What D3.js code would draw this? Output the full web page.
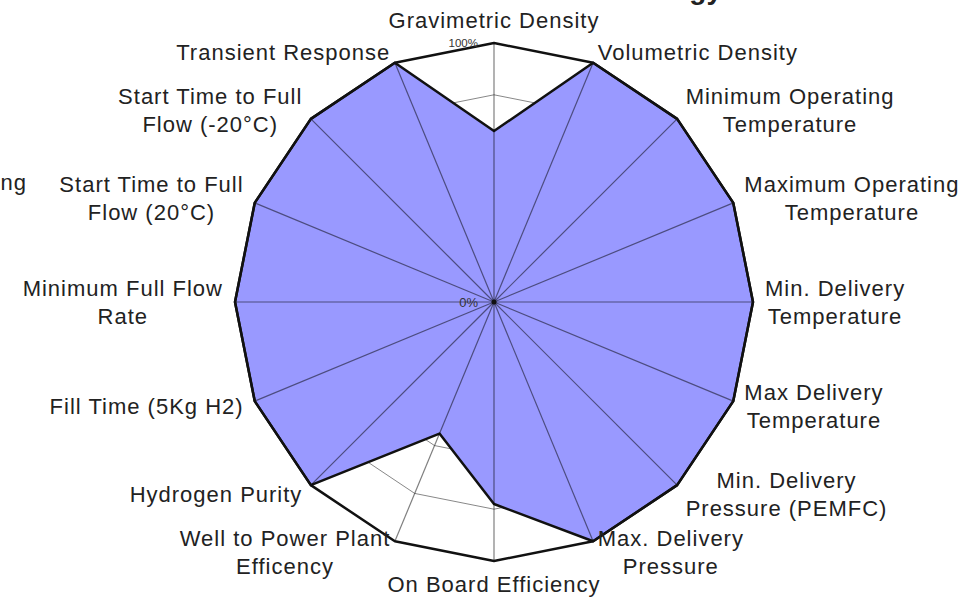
<!DOCTYPE html>
<html>
<head>
<meta charset="utf-8">
<script src="https://cdn.jsdelivr.net/npm/d3@7"></script>
<style>
  body { margin: 0; background: #fff; }
  text { font-family: "Liberation Sans", Arial, sans-serif; fill: #222; }
</style>
</head>
<body>
<svg></svg>
<script>
// set the dimensions of the graph
const width = 971,
  height = 601,
  cx = 494,
  cy = 302,
  radius = 259;

// axis names, top one first, going clockwise ("\n" = line break)
const categories = [
  "Gravimetric Density",
  "Volumetric Density",
  "Minimum Operating\nTemperature",
  "Maximum Operating\nTemperature",
  "Min. Delivery\nTemperature",
  "Max Delivery\nTemperature",
  "Min. Delivery\nPressure (PEMFC)",
  "Max. Delivery\nPressure",
  "On Board Efficiency",
  "Well to Power Plant\nEfficency",
  "Hydrogen Purity",
  "Fill Time (5Kg H2)",
  "Minimum Full Flow\nRate",
  "Start Time to Full\nFlow (20°C)",
  "Start Time to Full\nFlow (-20°C)",
  "Transient Response"
];

// share of target reached on each axis
const values = [0.66, 1, 1, 1, 1, 1, 1, 1, 0.78, 0.55, 1, 1, 1, 1, 1, 1];

const gridLevels = [0.2, 0.4, 0.6, 0.8];
const tickLabels = [{ v: 0, text: "0%" }, { v: 1, text: "100%" }];

const svg = d3.select("svg")
  .attr("width", width)
  .attr("height", height);

const g = svg.append("g")
  .attr("transform", `translate(${cx},${cy})`);

const n = categories.length;
const angle = d3.scaleLinear().domain([0, n]).range([0, 2 * Math.PI]);
const rScale = d3.scaleLinear().domain([0, 1]).range([0, radius]);

const radar = d3.lineRadial()
  .angle((d, i) => angle(i))
  .radius(d => rScale(d))
  .curve(d3.curveLinearClosed);

// inner grid rings
gridLevels.forEach(lv => {
  g.append("path")
    .attr("d", radar(d3.range(n).map(() => lv)))
    .attr("fill", "none")
    .attr("stroke", "#888")
    .attr("stroke-width", 1);
});

// the data area
g.append("path")
  .datum(values)
  .attr("d", radar)
  .attr("fill", "#9999ff")
  .attr("stroke", "#111")
  .attr("stroke-width", 2.5)
  .attr("stroke-linejoin", "round");

// spokes
d3.range(n).forEach(i => {
  const a = angle(i);
  g.append("line")
    .attr("x1", 0).attr("y1", 0)
    .attr("x2", rScale(1) * Math.sin(a))
    .attr("y2", -rScale(1) * Math.cos(a))
    .attr("stroke", "#000")
    .attr("stroke-opacity", 0.5)
    .attr("stroke-width", 1.2);
});

// outer ring (100%)
g.append("path")
  .attr("d", radar(d3.range(n).map(() => 1)))
  .attr("fill", "none")
  .attr("stroke", "#111")
  .attr("stroke-width", 2.5)
  .attr("stroke-linejoin", "round");

g.append("circle").attr("r", 2.5).attr("fill", "#111");

// scale labels on the top axis
tickLabels.forEach(t => {
  g.append("text")
    .attr("x", -16)
    .attr("y", -rScale(t.v) + (t.v === 0 ? 5 : 4))
    .attr("text-anchor", "end")
    .attr("font-size", t.v === 0 ? 13 : 11.5)
    .style("fill", "#333")
    .text(t.text);
});

// axis labels
const fontSize = 22, lineH = 28, capH = 16, pad = 12;

categories.forEach((name, i) => {
  const a = angle(i);
  const s = Math.sin(a), c = Math.cos(a);
  const px = (radius + pad) * s;
  const py = -(radius + pad) * c;
  const lines = name.split("\n");

  const t = g.append("text")
    .attr("font-size", fontSize)
    .attr("letter-spacing", 1)
    .attr("text-anchor", "middle");

  let firstBase;
  if (Math.abs(s) < 0.01) {
    firstBase = c > 0 ? py - 3 - (lines.length - 1) * lineH : py + capH + 3;
  } else {
    firstBase = py - (lines.length - 1) * lineH / 2 + capH / 2;
  }

  const spans = lines.map((ln, k) => t.append("tspan")
    .attr("y", firstBase + k * lineH)
    .text(ln));

  const maxW = d3.max(spans, sp => sp.node().getComputedTextLength());
  let x = px;
  if (s > 0.01) x = px + maxW / 2;
  else if (s < -0.01) x = px - maxW / 2;
  spans.forEach(sp => sp.attr("x", x));
});

// cut-off texts at the edges of the picture
svg.append("text")
  .attr("x", 27).attr("y", 190)
  .attr("text-anchor", "end")
  .attr("font-size", fontSize)
  .attr("letter-spacing", 1)
  .text("ng");

svg.append("text")
  .attr("x", 722).attr("y", -1)
  .attr("text-anchor", "end")
  .attr("font-size", 28)
  .attr("font-weight", "bold")
  .text("Technology");
</script>
</body>
</html>
